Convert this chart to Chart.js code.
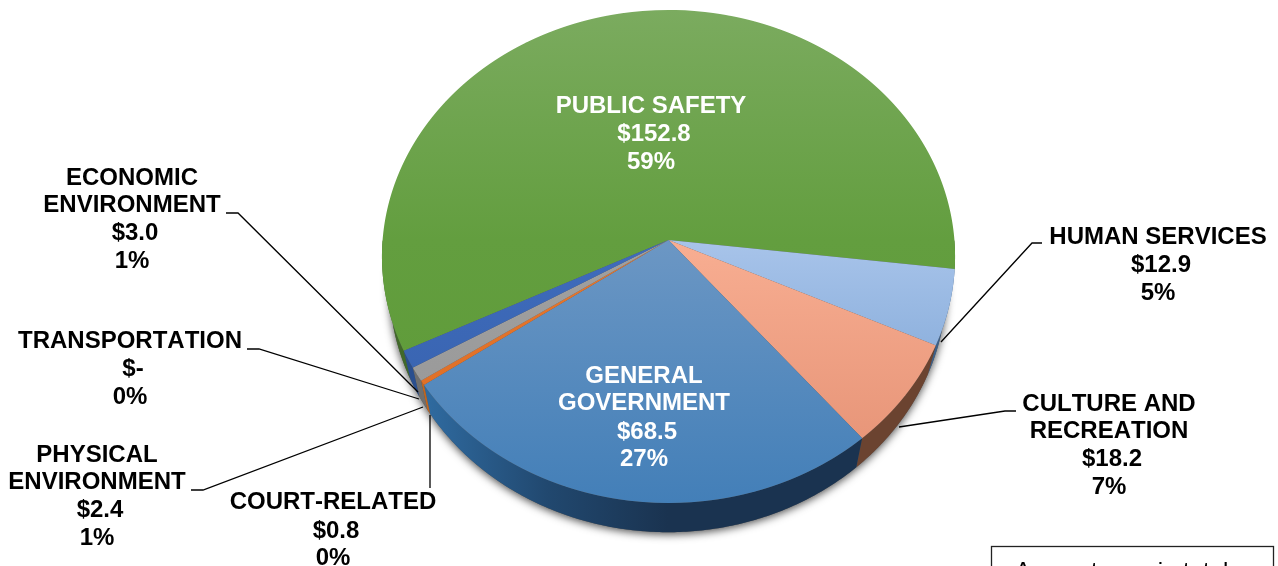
<!DOCTYPE html>
<html><head><meta charset="utf-8">
<style>html,body{margin:0;padding:0;background:#fff;overflow:hidden}canvas{display:block}</style>
<script src="https://cdn.jsdelivr.net/npm/chart.js@4"></script>
</head><body>
<canvas id="c" width="1278" height="566"></canvas>
<script>
// ---- data, clockwise from the top slice
const categories = ['PUBLIC SAFETY','HUMAN SERVICES','CULTURE AND RECREATION','GENERAL GOVERNMENT','COURT-RELATED','PHYSICAL ENVIRONMENT','TRANSPORTATION','ECONOMIC ENVIRONMENT'];
const values = [152.8,12.9,18.2,68.5,0.8,2.4,0,3.0];
const amounts = ['$152.8','$12.9','$18.2','$68.5','$0.8','$2.4','$-','$3.0'];
const percents = ['59%','5%','7%','27%','0%','1%','0%','1%'];
// ---- colours: top / middle / bottom of each slice's gloss
const topColors = ['#7bab5f','#a9c3e8','#f8b298','#6b97c4','#ed7d31','#a5a5a5','#a5a5a5','#4472c4'];
const midColors = ['#639e3f','#a8c4ea','#f8ae92','#6c97c4','#e8762c','#a0a0a0','#a0a0a0','#3f6cbd'];
const botColors = ['#5d9a36','#6d99ce','#e38f72','#437fb8','#d96c25','#969696','#969696','#355fa8'];
const wallColors = ['#41692a','#3c5f88','#6b4330','#1a3350','#c0651f','#6f6f6f','#6f6f6f','#2a4f8f'];
// ---- layout (not data): perspective of the top face and of the base
const face = {cx:668.5, B:240, A:229.33, C:285.9, k:-0.0669};
const base = {cx:668, B:268.6, A:228, C:278, k:-0.0669};
const START_DEG = -116;
const labelLayout = [
 {lines:['PUBLIC SAFETY'],i:0,x:651,y:[106,134,162],color:'#fff'},
 {lines:['HUMAN SERVICES'],i:1,x:1158,y:[237,265,293]},
 {lines:['CULTURE AND','RECREATION'],i:2,x:1109,y:[404,431,459,487]},
 {lines:['GENERAL','GOVERNMENT'],i:3,x:644,y:[376,403,432,459],color:'#fff'},
 {lines:['COURT-RELATED'],i:4,x:333,y:[502,531,558]},
 {lines:['PHYSICAL','ENVIRONMENT'],i:5,x:97,y:[455,482,510,538]},
 {lines:['TRANSPORTATION'],i:6,x:130,y:[341,369,397]},
 {lines:['ECONOMIC','ENVIRONMENT'],i:7,x:132,y:[178,205,233,261]}
];
const amountDx = 3;
const leaders = [
 [[226,213],[238,213],[418,392]],
 [[247,349],[259,349],[419,399]],
 [[191,490],[203,490],[423,407]],
 [[430,488],[430,415]],
 [[1042,243],[1032,243],[941,342]],
 [[1016,411],[1005,411],[899,427]]
];
const FONT = '"Liberation Sans", Arial, sans-serif';

function sliceFill(ctx){
  const chart = ctx.chart, a = chart.chartArea;
  if(!a) return midColors[ctx.dataIndex];
  const cy=(a.top+a.bottom)/2, R=(a.bottom-a.top)/2;
  const g = chart.ctx.createLinearGradient(0,cy-R,0,cy+R);
  g.addColorStop(0,topColors[ctx.dataIndex]);
  g.addColorStop(.5,midColors[ctx.dataIndex]);
  g.addColorStop(1,botColors[ctx.dataIndex]);
  return g;
}
function project(P,t){
  const u=Math.cos(t), v=Math.sin(t), w=1+P.k*v;
  return [P.cx+P.C*u/w,(P.A*v+P.B)/w];
}
function traceArc(ctx,P,a,b,first){
  const n=Math.max(2,Math.ceil(Math.abs(b-a)/0.01));
  for(let i=0;i<=n;i++){
    const q=project(P,a+(b-a)*i/n);
    (first&&i===0)?ctx.moveTo(q[0],q[1]):ctx.lineTo(q[0],q[1]);
  }
}

const pie3d = {
  id:'pie3d',
  beforeDatasetsDraw(chart){
    const ctx = chart.ctx, els = chart.getDatasetMeta(0).data;
    // soft shadow under the base
    ctx.save();
    ctx.shadowColor='rgba(0,0,0,.7)'; ctx.shadowBlur=9; ctx.shadowOffsetY=2;
    ctx.fillStyle='#555';
    ctx.beginPath(); traceArc(ctx,base,0,Math.PI*2,true); ctx.closePath(); ctx.fill();
    ctx.restore();
    // outer wall of each slice
    els.forEach((el,i)=>{
      [0,Math.PI*2,-Math.PI*2].forEach(k=>{
        const a=Math.max(el.startAngle+k,0), b=Math.min(el.endAngle+k,Math.PI);
        if(b<=a) return;
        ctx.beginPath();
        traceArc(ctx,face,a,b,true);
        traceArc(ctx,base,b,a,false);
        ctx.closePath();
        if(i===3){
          const g=ctx.createLinearGradient(base.cx-240,0,base.cx,0);
          g.addColorStop(0,'#2f6a9f'); g.addColorStop(.5,'#21486f'); g.addColorStop(1,wallColors[3]);
          ctx.fillStyle=g;
        } else ctx.fillStyle=wallColors[i];
        ctx.fill();
      });
    });
    // top face: the library's arcs, put through the perspective one pixel row at a time
    const c = els[0], R = c.outerRadius, P = face;
    for(let y=5;y<510;y++){
      const ym=y+.5, vm=(ym-P.B)/(P.A-P.k*ym), w=1+P.k*vm;
      const sx=P.C/w/R, D=(P.A-P.k*P.B)/(w*w)/R;
      ctx.save();
      ctx.beginPath(); ctx.rect(0,y,1278,1); ctx.clip();
      ctx.transform(sx,0,0,D,P.cx-sx*c.x,ym-D*R*vm-D*c.y);
      els.forEach(el=>el.draw(ctx));
      ctx.restore();
    }
    return false;
  },
  afterDraw(chart){
    const ctx = chart.ctx;
    ctx.save();
    ctx.strokeStyle='#000'; ctx.lineWidth=1.3;
    leaders.forEach(p=>{
      ctx.beginPath();
      p.forEach((q,i)=> i? ctx.lineTo(q[0],q[1]) : ctx.moveTo(q[0],q[1]));
      ctx.stroke();
    });
    ctx.fontKerning='none';
    ctx.textAlign='center'; ctx.textBaseline='middle';
    ctx.font='bold 24px '+FONT;
    labelLayout.forEach(l=>{
      ctx.fillStyle=l.color||'#000';
      const n=l.lines.length;
      l.lines.forEach((s,j)=>ctx.fillText(s,l.x,l.y[j]));
      ctx.fillText(amounts[l.i],l.x+amountDx,l.y[n]);
      ctx.fillText(percents[l.i],l.x,l.y[n+1]);
    });
    // note box, running off the bottom of the page
    ctx.strokeStyle='#222'; ctx.lineWidth=1.3;
    ctx.strokeRect(991.5,546.5,282,40);
    ctx.fillStyle='#000'; ctx.textAlign='left'; ctx.textBaseline='alphabetic';
    ctx.font='24px '+FONT;
    ctx.fillText('Amounts are in totals',1015,579);
    ctx.restore();
  }
};

new Chart(document.getElementById('c'),{
  type:'pie',
  data:{labels:categories,datasets:[{data:values,backgroundColor:sliceFill,borderWidth:0}]},
  options:{
    responsive:false,animation:false,rotation:START_DEG,
    layout:{padding:0},
    plugins:{legend:{display:false},tooltip:{enabled:false}},
    events:[]
  },
  plugins:[pie3d]
});
</script>
</body></html>
